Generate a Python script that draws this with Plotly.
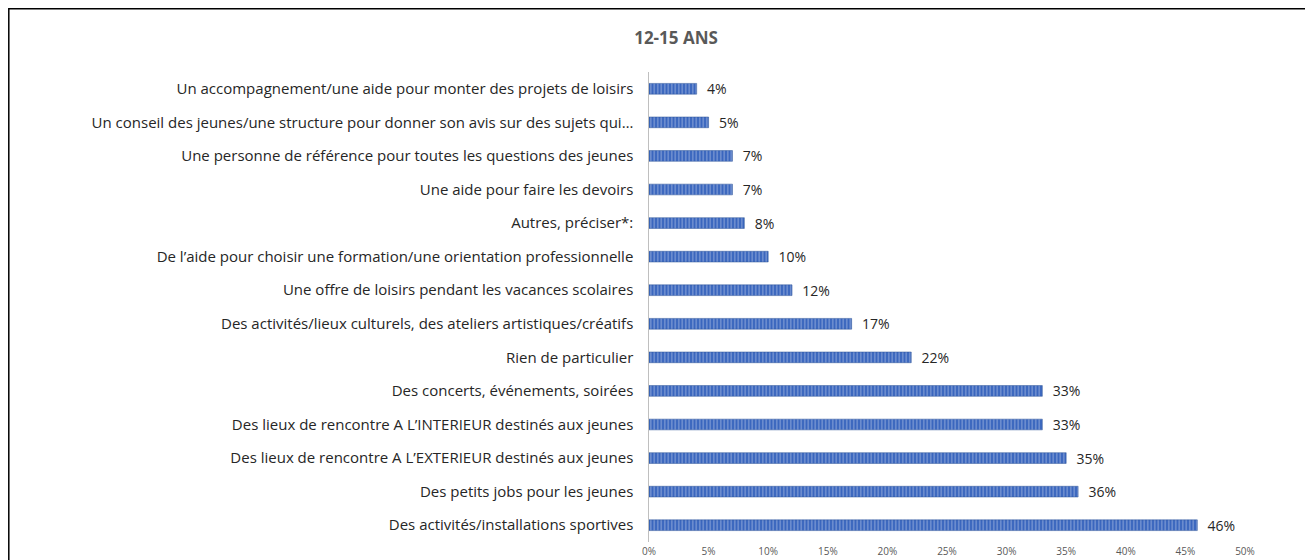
import plotly.graph_objects as go

# Categories listed top to bottom, as in the chart
categories = [
    "Un accompagnement/une aide pour monter des projets de loisirs",
    "Un conseil des jeunes/une structure pour donner son avis sur des sujets qui…",
    "Une personne de référence pour toutes les questions des jeunes",
    "Une aide pour faire les devoirs",
    "Autres, préciser*:",
    "De l’aide pour choisir une formation/une orientation professionnelle",
    "Une offre de loisirs pendant les vacances scolaires",
    "Des activités/lieux culturels, des ateliers artistiques/créatifs",
    "Rien de particulier",
    "Des concerts, événements, soirées",
    "Des lieux de rencontre A L’INTERIEUR destinés aux jeunes",
    "Des lieux de rencontre A L’EXTERIEUR destinés aux jeunes",
    "Des petits jobs pour les jeunes",
    "Des activités/installations sportives",
]
values = [0.04, 0.05, 0.07, 0.07, 0.08, 0.10, 0.12, 0.17, 0.22, 0.33, 0.33, 0.35, 0.36, 0.46]
tick_vals = [0, 0.05, 0.10, 0.15, 0.20, 0.25, 0.30, 0.35, 0.40, 0.45, 0.50]

# page has an 8px body margin, so figure coords = page coords - 8
W, H = 1305, 560
ml, mr, mt, mb = 641, 68, 64, 26
FONT = "Open Sans"

fig = go.Figure()
fig.add_trace(go.Bar(
    x=values, y=categories, orientation="h",
    marker=dict(
        color="#3A66BE",
        line=dict(color="#2F5597", width=0.5),
        pattern=dict(shape="|", fgcolor="white", size=3.5, solidity=0.25, fillmode="overlay"),
    ),
    text=[f"\u00a0\u00a0{v*100:.0f}%" for v in values],
    textposition="outside",
    constraintext="none",
    textfont=dict(size=14, color="#262626", family=FONT),
    cliponaxis=False,
    showlegend=False,
))

# black frame around the chart
pw, ph = W - ml - mr, H - mt - mb
fig.add_shape(
    type="rect", xref="paper", yref="paper",
    x0=(0.8 - ml) / pw, x1=(1301 - ml) / pw,
    y0=(H - mb - 570) / ph, y1=(H - mb - 0.8) / ph,
    line=dict(color="#000000", width=1.5), fillcolor="rgba(0,0,0,0)",
)

fig.update_layout(
    width=W, height=H,
    margin=dict(l=ml, r=mr, t=mt, b=mb),
    paper_bgcolor="white", plot_bgcolor="white",
    bargap=0.68,
    font=dict(family=FONT, size=15, color="#262626"),
    title=dict(
        text="<b>12-15 ANS</b>", x=668 / W, xanchor="center",
        y=1 - 30 / H, yanchor="middle",
        font=dict(size=17, color="#595959", family=FONT),
    ),
)
fig.update_xaxes(
    range=[0, 0.5], tickvals=tick_vals, tickformat=".0%",
    showgrid=False, zeroline=False, showline=False,
    tickfont=dict(size=10, color="#595959"), ticks="",
    ticklabelstandoff=2, automargin=False,
)
fig.update_yaxes(
    autorange="reversed", showgrid=False, showline=True,
    linecolor="#BFBFBF", linewidth=1, ticks="", ticksuffix="   ",
    tickfont=dict(size=15, color="#262626"),
)

fig.write_html("out.html")
